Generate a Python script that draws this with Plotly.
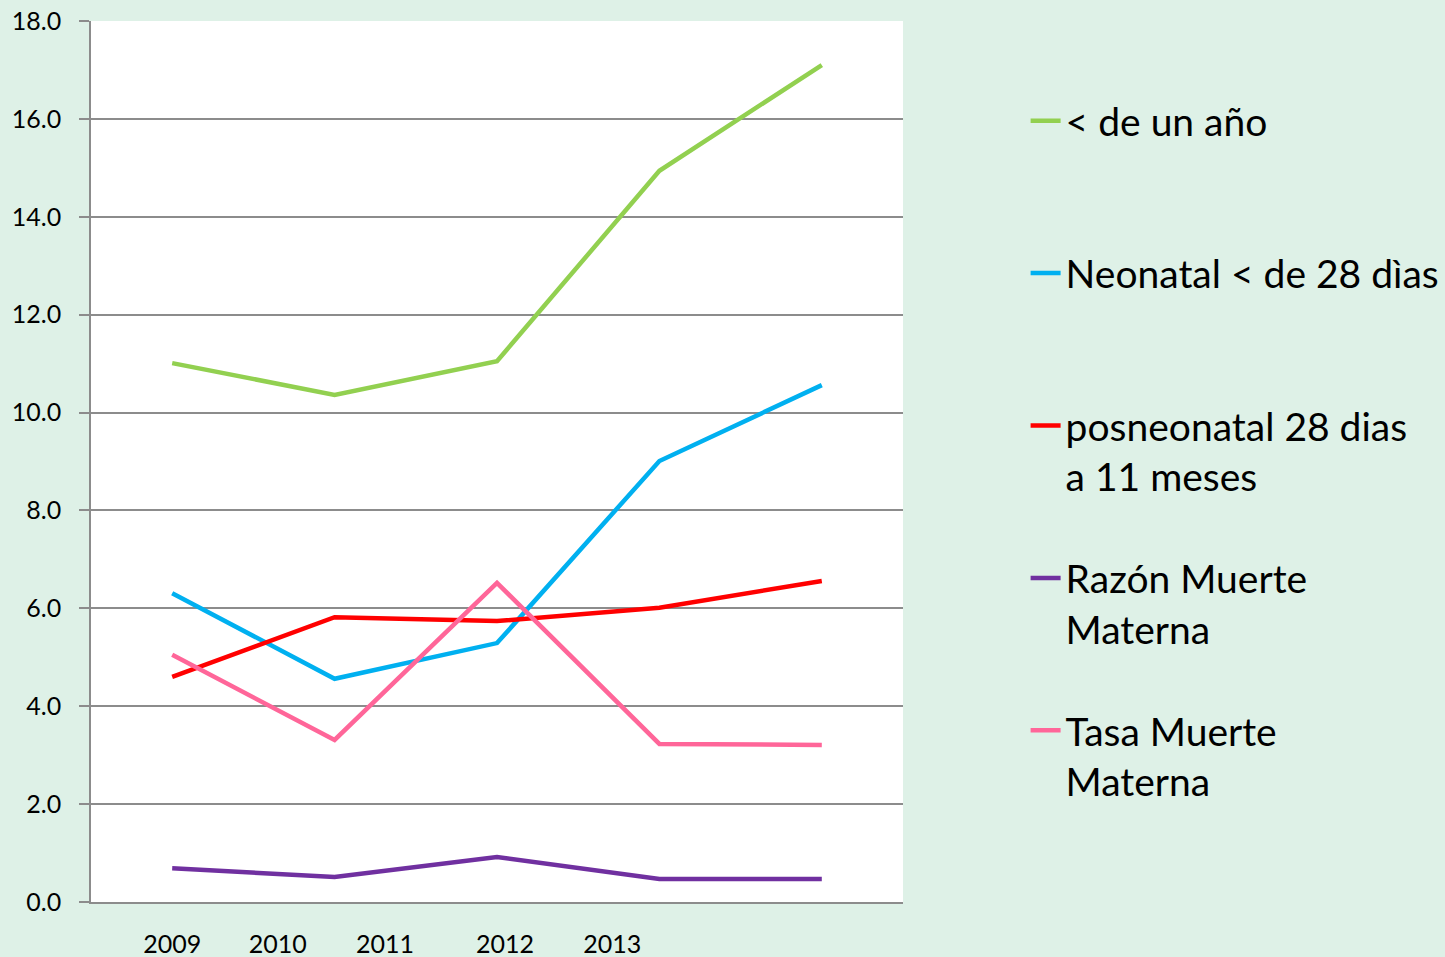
import plotly.graph_objects as go

years = ["2009", "2010", "2011", "2012", "2013"]
menor_un_ano = [11.01, 10.36, 11.05, 14.94, 17.10]
neonatal = [6.31, 4.56, 5.29, 9.01, 10.56]
posneonatal = [4.60, 5.82, 5.74, 6.01, 6.56]
razon_mm = [0.69, 0.51, 0.92, 0.47, 0.47]
tasa_mm = [5.05, 3.31, 6.52, 3.23, 3.21]

series = [
    ("< de un año<br>\u00a0", menor_un_ano, "#92D050"),
    ("Neonatal < de 28 dìas<br>\u00a0", neonatal, "#00B0F0"),
    ("posneonatal 28 dias<br>a 11 meses", posneonatal, "#FF0000"),
    ("Razón Muerte<br>Materna", razon_mm, "#7030A0"),
    ("Tasa Muerte<br>Materna", tasa_mm, "#FF6699"),
]

xs = list(range(len(years)))
# label positions as drawn in the original (offset from the points)
label_pos = [0.0, 0.65, 1.31, 2.05, 2.71]

fig = go.Figure()
for i, (name, vals, color) in enumerate(series):
    fig.add_trace(go.Scatter(
        x=xs, y=vals, name=name, mode="lines",
        line=dict(color=color, width=4.5),
        legendgroup=f"g{i}",
    ))

grid = "#8C8C8C"
fig.update_layout(
    width=1445, height=957,
    margin=dict(l=91, r=542, t=21, b=55, autoexpand=False),
    paper_bgcolor="#DEF1E7",
    plot_bgcolor="#FFFFFF",
    font=dict(family="Lato", color="#000000"),
    showlegend=True,
    legend=dict(
        x=1.151, xanchor="left", y=0.923, yanchor="top",
        font=dict(size=39, family="Lato"),
        bgcolor="rgba(0,0,0,0)",
        traceorder="grouped",
        tracegroupgap=48,
        valign="top",
    ),
    xaxis=dict(
        range=[-0.5, 4.5],
        tickvals=label_pos, ticktext=years,
        showgrid=False, zeroline=False,
        showline=True, linecolor=grid, linewidth=1.5,
        ticks="", ticklabelstandoff=19, automargin=False,
        tickfont=dict(size=25, family="Lato"),
    ),
    yaxis=dict(
        range=[0, 18], dtick=2, tickformat=".1f",
        showgrid=True, gridcolor=grid, gridwidth=1.5,
        zeroline=False, automargin=False,
        showline=True, linecolor=grid, linewidth=1.5,
        ticks="outside", ticklen=10, tickcolor=grid, tickwidth=1.5,
        ticklabelstandoff=13,
        tickfont=dict(size=25, family="Lato"),
    ),
)

fig.write_html(
    "out.html",
    config={"displayModeBar": False},
    post_script="document.body.style.margin='0';document.body.style.background='#DEF1E7';",
)
